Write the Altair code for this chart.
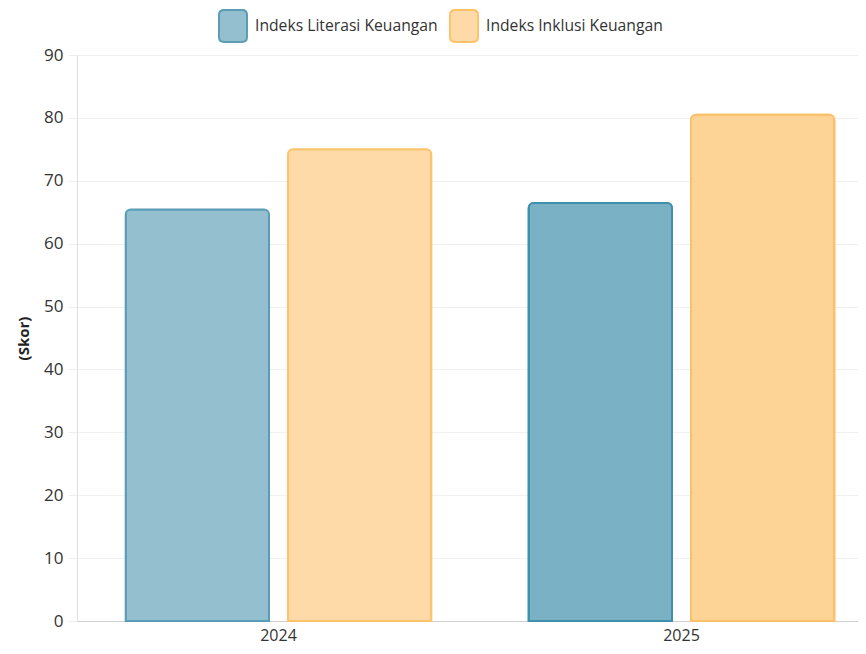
import altair as alt
import pandas as pd

years = ["2024", "2025"]
series = ["Indeks Literasi Keuangan", "Indeks Inklusi Keuangan"]
literasi = [65.43, 66.46]
inklusi = [75.02, 80.51]

fill_base = ["#93BFCF", "#FDDAA7"]
stroke_base = ["#5B9DB7", "#FCC36C"]
fill_hover = ["#7BB1C5", "#FED396"]
stroke_hover = ["#3F8EAB", "#FDC06A"]

rows = []
for i, y in enumerate(years):
    rows.append({"year": y, "series": series[0], "value": literasi[i]})
    rows.append({"year": y, "series": series[1], "value": inklusi[i]})
df = pd.DataFrame(rows)

FONT = "Open Sans"
rounded = ("M -0.56,-1 L 0.56,-1 Q 0.875,-1 0.875,-0.69 L 0.875,0.69 Q 0.875,1 0.56,1 "
           "L -0.56,1 Q -0.875,1 -0.875,0.69 L -0.875,-0.69 Q -0.875,-1 -0.56,-1 Z")

x_enc = alt.X("year:N", sort=years,
              scale=alt.Scale(range=[0, 806], paddingInner=0, paddingOuter=0),
              axis=alt.Axis(title=None, labelAngle=0, ticks=False, labelPadding=6,
                            labelFontSize=16, labelColor="#333", labelFont=FONT,
                            domainColor="#d0d0d0", grid=False))
xoff = alt.XOffset("series:N", sort=series,
                   scale=alt.Scale(paddingInner=0.117, paddingOuter=0.3))
y_enc = alt.Y("value:Q", scale=alt.Scale(domain=[0, 90]),
              axis=alt.Axis(title="(Skor)", values=list(range(0, 91, 10)),
                            titleFontSize=15, titleFontWeight="bold", titleColor="#222",
                            titleFont=FONT, titlePadding=12,
                            labelFontSize=17, labelColor="#333", labelFont=FONT,
                            labelPadding=5, tickSize=9, tickColor="#eeeeee",
                            gridColor="#f0f0f0", domainColor="#e0e0e0"))

leg = dict(title=None, orient="none", direction="horizontal",
           legendX=139, legendY=-46, symbolType=rounded,
           symbolSize=1024, symbolStrokeWidth=2,
           labelFontSize=15.7, labelFont=FONT, labelColor="#333",
           labelOffset=5, columnPadding=8, labelLimit=400,
           symbolOpacity=1)

base = alt.Chart(df).mark_bar(cornerRadiusTopLeft=5, cornerRadiusTopRight=5,
                              strokeWidth=2).encode(
    x=x_enc, xOffset=xoff, y=y_enc,
    fill=alt.Fill("series:N", sort=series,
                  scale=alt.Scale(domain=series, range=fill_base),
                  legend=alt.Legend(**leg)),
    stroke=alt.Stroke("series:N", sort=series,
                      scale=alt.Scale(domain=series, range=stroke_base),
                      legend=alt.Legend(**leg)),
)

hover = alt.Chart(df).transform_filter(alt.datum.year == "2025").mark_bar(
    cornerRadiusTopLeft=5, cornerRadiusTopRight=5, strokeWidth=2).encode(
    x=x_enc, xOffset=xoff, y=y_enc,
    fill=alt.Fill("series:N", sort=series,
                  scale=alt.Scale(domain=series, range=fill_hover), legend=None),
    stroke=alt.Stroke("series:N", sort=series,
                      scale=alt.Scale(domain=series, range=stroke_hover), legend=None),
)

chart = alt.layer(base, hover).resolve_scale(fill="independent", stroke="independent").properties(
    width=781, height=566,
    autosize=alt.AutoSizeParams(type="none"),
    padding={"left": 69, "top": 47, "right": 0, "bottom": 25},
).configure_view(stroke=None).configure(font=FONT)

chart.save("out.html", embed_options={"renderer": "svg", "actions": False})
